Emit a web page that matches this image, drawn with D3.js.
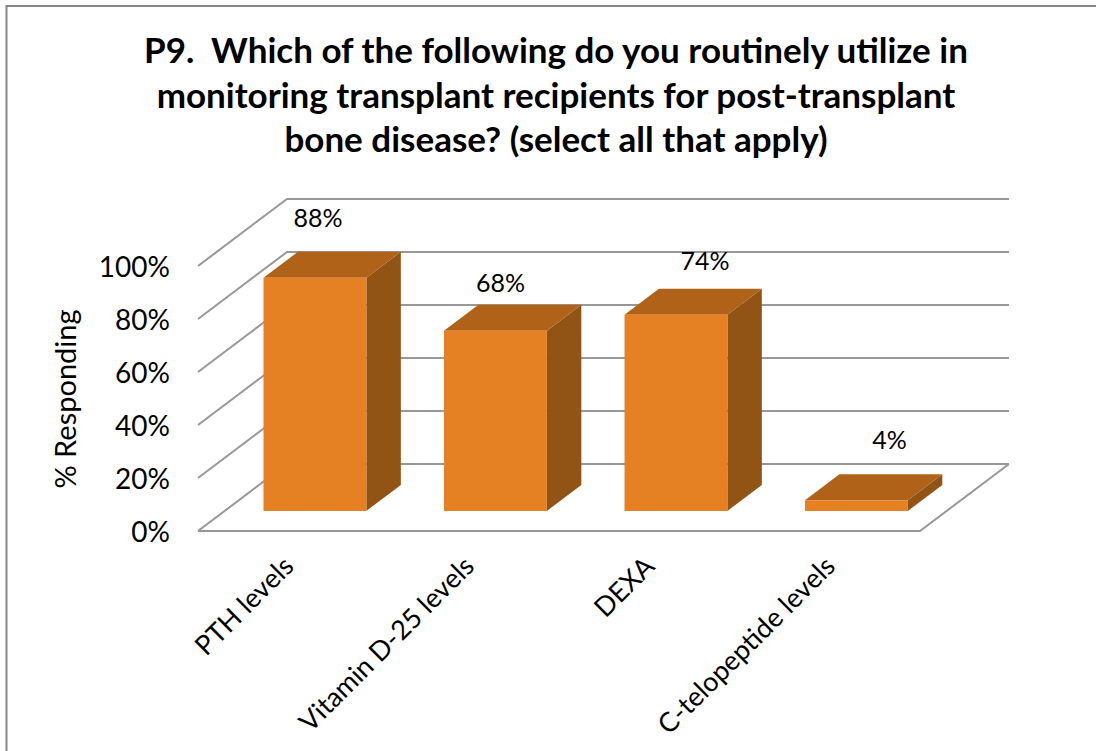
<!DOCTYPE html>
<html>
<head>
<meta charset="utf-8">
<script src="https://cdnjs.cloudflare.com/ajax/libs/d3/7.8.5/d3.min.js"></script>
<style>
html, body { margin: 0; padding: 0; background: #fff; overflow: hidden; }
text { font-family: Lato, "Open Sans", sans-serif; fill: #000; }
</style>
</head>
<body>
<div id="vis"></div>
<script>
const categories = ["PTH levels", "Vitamin D-25 levels", "DEXA", "C-telopeptide levels"];
const values = [88, 68, 74, 4];
const yTicks = [0, 20, 40, 60, 80, 100];
const titleLines = [
    "P9.  Which of the following do you routinely utilize in",
    "monitoring transplant recipients for post-transplant",
    "bone disease? (select all that apply)"
];

// data labels were moved by hand in the original, so they sit at uneven offsets
const labelNudge = [[3, -59], [5, -47], [29, -54], [33, -60]];

const width = 1096;
const height = 751;

const svg = d3.select("#vis")
    .append("svg")
    .attr("width", width)
    .attr("height", height);

const x = d3.scaleBand()
    .domain(categories)
    .range([198, 920])
    .paddingInner(0.43)
    .paddingOuter(0.215);

const y = d3.scaleLinear().domain([0, 100]).range([531, 266]);

// depth axis of the fake 3d box
const depthX = d3.scaleLinear().domain([0, 1]).range([0, 89]);
const depthY = d3.scaleLinear().domain([0, 1]).range([0, -67]);

function pt(px, v, z) {
    return [px + depthX(z), y(v) + depthY(z)];
}

const line = d3.line();
const [x0, x1] = x.range();

// frame
svg.append("path")
    .attr("d", line([[width, 6], [6.5, 6], [6.5, height]]))
    .attr("fill", "none")
    .attr("stroke", "#878787")
    .attr("stroke-width", 2);

// gridlines: side wall + back wall
const grid = svg.append("g")
    .attr("fill", "none")
    .attr("stroke", "#989898")
    .attr("stroke-width", 2);

grid.selectAll("path.wall")
    .data(yTicks)
    .enter()
    .append("path")
    .attr("class", "wall")
    .attr("d", d => line([pt(x0, d, 0), pt(x0, d, 1), pt(x1, d, 1)]));

// floor front and right edge
grid.append("path")
    .attr("d", line([pt(x0, 0, 0), pt(x1, 0, 0), pt(x1, 0, 1)]));

// bars
const zFront = 0.3;
const zBack = 0.687;

const bars = svg.append("g")
    .selectAll("g")
    .data(categories.map((c, i) => ({ name: c, value: values[i], nudge: labelNudge[i] })))
    .enter()
    .append("g");

bars.append("path")
    .attr("fill", "#925414")
    .attr("d", d => {
        const r = x(d.name) + x.bandwidth();
        return line([pt(r, 0, zFront), pt(r, d.value, zFront), pt(r, d.value, zBack), pt(r, 0, zBack)]) + "Z";
    });

bars.append("path")
    .attr("fill", "#AF6218")
    .attr("d", d => {
        const l = x(d.name);
        const r = l + x.bandwidth();
        return line([pt(l, d.value, zFront), pt(r, d.value, zFront), pt(r, d.value, zBack), pt(l, d.value, zBack)]) + "Z";
    });

bars.append("path")
    .attr("fill", "#E68123")
    .attr("d", d => {
        const l = x(d.name);
        const r = l + x.bandwidth();
        return line([pt(l, 0, zFront), pt(r, 0, zFront), pt(r, d.value, zFront), pt(l, d.value, zFront)]) + "Z";
    });

// value labels
bars.append("text")
    .attr("x", d => pt(x(d.name) + x.bandwidth() / 2, d.value, zFront)[0] + d.nudge[0])
    .attr("y", d => pt(0, d.value, zFront)[1] + d.nudge[1])
    .attr("dy", "0.35em")
    .attr("text-anchor", "middle")
    .style("font-size", "25px")
    .text(d => d.value + "%");

// y axis
const yAxis = d3.axisLeft(y)
    .tickValues(yTicks)
    .tickFormat(d => d + "%")
    .tickSize(0)
    .tickPadding(28);

const yG = svg.append("g")
    .attr("transform", "translate(" + x0 + ",0)")
    .call(yAxis);
yG.select(".domain").remove();
yG.selectAll("text")
    .attr("dy", "0.38em")
    .style("font-size", "28px");

svg.append("text")
    .attr("transform", "translate(66,399) rotate(-90)")
    .attr("text-anchor", "middle")
    .attr("dy", "0.35em")
    .style("font-size", "29px")
    .text("% Responding");

// x axis labels, slanted
const xAxis = d3.axisBottom(x)
    .tickSize(0)
    .tickPadding(0);

const xG = svg.append("g")
    .attr("transform", "translate(0," + y(0) + ")")
    .call(xAxis);
xG.select(".domain").remove();
xG.selectAll("text")
    .attr("text-anchor", "end")
    .attr("x", 0)
    .attr("y", 0)
    .attr("dy", 0)
    .attr("transform", "translate(7,37) rotate(-45)")
    .style("font-size", "27px");

// title
svg.append("g")
    .selectAll("text")
    .data(titleLines)
    .enter()
    .append("text")
    .attr("x", 556)
    .attr("y", (d, i) => 63 + i * 44.5)
    .attr("text-anchor", "middle")
    .style("font-size", "35px")
    .style("font-weight", "bold")
    .style("white-space", "pre")
    .text(d => d);
</script>
</body>
</html>
